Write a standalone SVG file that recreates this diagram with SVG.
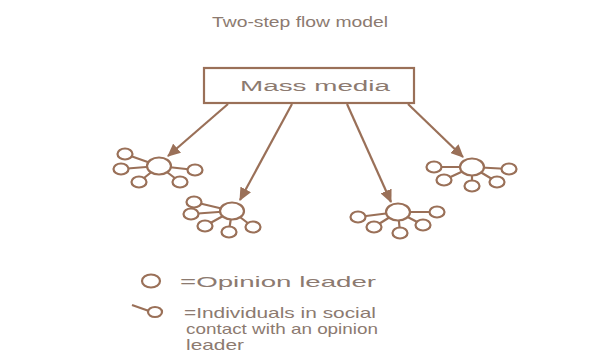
<svg xmlns="http://www.w3.org/2000/svg" width="602" height="360" viewBox="0 0 602 360">
<defs>
<style>
.ln{stroke:#9a7058;stroke-width:2.2;fill:none}
.nd{stroke:#9a7058;stroke-width:2.2;fill:#fff}
.tx{font-family:"Liberation Sans",Arial,sans-serif;fill:#8c7a70}
</style>
<marker id="ah" markerWidth="13" markerHeight="12" refX="12" refY="6" orient="auto" markerUnits="userSpaceOnUse" viewBox="0 0 13 12">
<path d="M0,0 L13,6 L0,12 Z" fill="#9a7058"/>
</marker>
</defs>
<rect width="602" height="360" fill="#fff"/>
<text class="tx" x="212" y="27" font-size="15" textLength="176" lengthAdjust="spacingAndGlyphs">Two-step flow model</text>
<g id="mass-media">
<rect class="ln" x="204" y="68" width="210" height="35"/>
<text class="tx" x="240" y="91" font-size="14" textLength="150" lengthAdjust="spacingAndGlyphs">Mass media</text>
</g>
<g id="connectors">
<line class="ln" x1="228" y1="104" x2="168" y2="156" marker-end="url(#ah)"/>
<line class="ln" x1="292" y1="104" x2="240" y2="200" marker-end="url(#ah)"/>
<line class="ln" x1="347" y1="104" x2="391" y2="202" marker-end="url(#ah)"/>
<line class="ln" x1="408" y1="104" x2="463" y2="157" marker-end="url(#ah)"/>
</g>
<g id="cluster1">
<path class="ln" d="M159,166L125,154M159,166L121,169M159,166L139,182M159,166L180,182M159,166L195,170"/>
<ellipse class="nd" cx="159" cy="166" rx="12" ry="8.5"/>
<ellipse class="nd" cx="125" cy="154" rx="7.5" ry="5.5"/>
<ellipse class="nd" cx="121" cy="169" rx="7.5" ry="5.5"/>
<ellipse class="nd" cx="139" cy="182" rx="7.5" ry="5.5"/>
<ellipse class="nd" cx="180" cy="182" rx="7.5" ry="5.5"/>
<ellipse class="nd" cx="195" cy="170" rx="7.5" ry="5.5"/>
</g>
<g id="cluster2">
<path class="ln" d="M232,211L194,202M232,211L191,214M232,211L205,226M232,211L229,231M232,211L253,227"/>
<ellipse class="nd" cx="232" cy="211" rx="12" ry="8.5"/>
<ellipse class="nd" cx="194" cy="202" rx="7.5" ry="5.5"/>
<ellipse class="nd" cx="191" cy="214" rx="7.5" ry="5.5"/>
<ellipse class="nd" cx="205" cy="226" rx="7.5" ry="5.5"/>
<ellipse class="nd" cx="229" cy="232" rx="7.5" ry="5.5"/>
<ellipse class="nd" cx="253" cy="227" rx="7.5" ry="5.5"/>
</g>
<g id="cluster3">
<path class="ln" d="M398,212L358,217M398,212L374,227M398,212L400,232M398,212L423,225M398,212L437,212"/>
<ellipse class="nd" cx="398" cy="212" rx="12" ry="8.5"/>
<ellipse class="nd" cx="358" cy="217" rx="7.5" ry="5.5"/>
<ellipse class="nd" cx="374" cy="227" rx="7.5" ry="5.5"/>
<ellipse class="nd" cx="400" cy="233" rx="7.5" ry="5.5"/>
<ellipse class="nd" cx="423" cy="225" rx="7.5" ry="5.5"/>
<ellipse class="nd" cx="437" cy="212" rx="7.5" ry="5.5"/>
</g>
<g id="cluster4">
<path class="ln" d="M472,167L434,167M472,167L444,180M472,167L472,185M472,167L497,182M472,167L509,169"/>
<ellipse class="nd" cx="472" cy="167" rx="12" ry="8.5"/>
<ellipse class="nd" cx="434" cy="167" rx="7.5" ry="5.5"/>
<ellipse class="nd" cx="444" cy="180" rx="7.5" ry="5.5"/>
<ellipse class="nd" cx="472" cy="186" rx="7.5" ry="5.5"/>
<ellipse class="nd" cx="497" cy="182" rx="7.5" ry="5.5"/>
<ellipse class="nd" cx="509" cy="169" rx="7.5" ry="5.5"/>
</g>
<g id="legend-opinion-leader">
<ellipse class="nd" cx="151" cy="281" rx="9" ry="6.5"/>
<text class="tx" x="180" y="287" font-size="15" textLength="196" lengthAdjust="spacingAndGlyphs">=Opinion leader</text>
</g>
<g id="legend-individuals">
<line class="ln" x1="132" y1="305" x2="149" y2="311"/>
<ellipse class="nd" cx="155" cy="312" rx="7" ry="5"/>
<text class="tx" font-size="15">
<tspan x="184" y="318" textLength="192" lengthAdjust="spacingAndGlyphs">=Individuals in social</tspan>
<tspan x="186" y="334" textLength="192" lengthAdjust="spacingAndGlyphs">contact with an opinion</tspan>
<tspan x="186" y="350" textLength="58" lengthAdjust="spacingAndGlyphs">leader</tspan>
</text>
</g>
</svg>
